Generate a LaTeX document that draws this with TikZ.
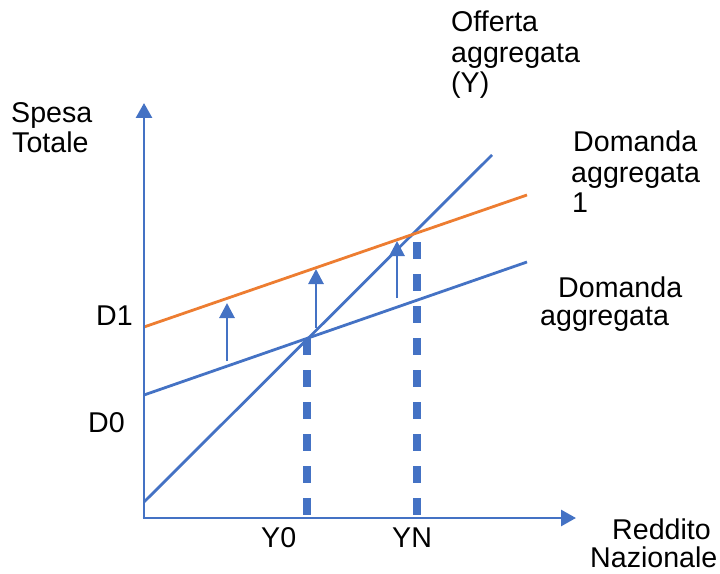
\documentclass[tikz,border=0pt]{standalone}
\usepackage{fontspec}
\setmainfont{Liberation Sans}
\usetikzlibrary{arrows.meta}
\definecolor{oblue}{HTML}{4472C4}
\definecolor{oorange}{HTML}{ED7D31}
\tikzset{
  lbl/.style={anchor=base west, inner sep=0pt, font=\fontsize{28.6bp}{31bp}\selectfont},
  axisline/.style={draw=oblue, line width=2.8bp, -{Triangle[width=16bp,length=15bp]}},
  curve/.style={line width=2.8bp},
  shift arrow/.style={draw=oblue, line width=2.8bp, -{Triangle[width=15bp,length=15bp]}},
  guide/.style={draw=oblue, line width=8bp, dash pattern=on 17bp off 15bp},
}
\begin{document}
\begin{tikzpicture}[x=1bp,y=-1bp]
\useasboundingbox (0,0) rectangle (720,574);
% coordinates
\coordinate (O) at (144,518);
\coordinate (ytop) at (144,103);
\coordinate (xend) at (576,518);
\coordinate (s0) at (144,502);
\coordinate (s1) at (492,155);
\coordinate (d0) at (144,395);
\coordinate (d1) at (527,262);
\coordinate (e0) at (144,327);
\coordinate (e1) at (527,195);
\coordinate (g1t) at (307,338);
\coordinate (g1b) at (307,518);
\coordinate (g2t) at (417,242);
\coordinate (g2b) at (417,518);
\coordinate (a1b) at (227,361);
\coordinate (a1t) at (227,303);
\coordinate (a2b) at (316,328);
\coordinate (a2t) at (316,269);
\coordinate (a3b) at (397,298);
\coordinate (a3t) at (397,241);
% guides
\begin{scope}
\clip (0,0) rectangle (720,517);
\draw[guide] (g1t) -- (g1b);
\draw[guide] (g2t) -- (g2b);
\end{scope}
% curves
\draw[curve, draw=oblue] (s0) -- (s1);
\draw[curve, draw=oblue] (d0) -- (d1);
\draw[curve, draw=oorange] (e0) -- (e1);
% axes
\draw[axisline] (O) -- (ytop);
\draw[axisline] ([xshift=-1.4bp]O) -- (xend);
% shift arrows
\draw[shift arrow] (a1b) -- (a1t);
\draw[shift arrow] (a2b) -- (a2t);
\draw[shift arrow] (a3b) -- (a3t);
% labels
\node[lbl] (spesa) at (11,123) {Spesa};
\node[lbl] (totale) at (12,153) {Totale};
\node[lbl] (of1) at (451,32) {Offerta};
\node[lbl] (of2) at (451,63) {aggregata};
\node[lbl] (of3) at (451,93) {(Y)};
\node[lbl] (da1) at (573,152) {Domanda};
\node[lbl] (da2) at (571,183) {aggregata};
\node[lbl] (da3) at (572,213) {1};
\node[lbl] (db1) at (558,297) {Domanda};
\node[lbl] (db2) at (540,325) {aggregata};
\node[lbl] (dl1) at (96,325) {D1};
\node[lbl] (dl0) at (88,432) {D0};
\node[lbl] (y0) at (261,547) {Y0};
\node[lbl] (yn) at (392,547) {YN};
\node[lbl] (red) at (612,539) {Reddito};
\node[lbl] (naz) at (590,567) {Nazionale};
\end{tikzpicture}
\end{document}
